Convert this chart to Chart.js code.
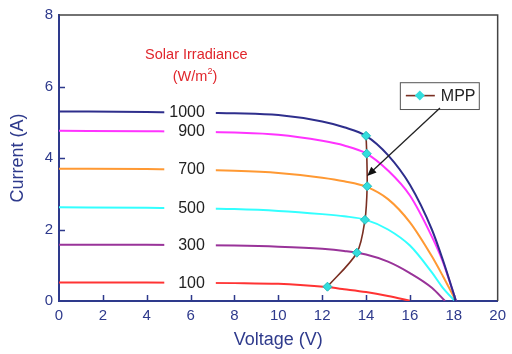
<!DOCTYPE html>
<html>
<head>
<meta charset="utf-8">
<script src="https://cdn.jsdelivr.net/npm/chart.js@4.4.0/dist/chart.umd.min.js"></script>
<style>
  html, body { margin: 0; padding: 0; background: #fff; }
  #wrap { width: 512px; height: 354px; }
</style>
</head>
<body>
<div id="wrap"><canvas id="pv"></canvas></div>
<script>
// irradiance levels (W/m2)
const irradiance = ['1000', '900', '700', '500', '300', '100'];
const curveColors = ['#2e2e8c', '#ff33ff', '#ff9933', '#33ffff', '#993399', '#ff3333'];

// I-V curves
const v1000 = [0, 4, 8, 10, 12, 13, 14, 15, 16, 17, 17.5, 18.1];
const i1000 = [5.3, 5.29, 5.25, 5.2, 5.02, 4.86, 4.62, 4.08, 3.25, 2.0, 1.15, 0];
const v900 = [0, 4, 8, 10, 12, 13, 14, 15, 16, 17, 17.5, 18.1];
const i900 = [4.76, 4.75, 4.71, 4.65, 4.48, 4.35, 4.13, 3.65, 2.95, 1.8, 1.1, 0];
const v700 = [0, 4, 8, 10, 12, 13, 14, 15, 16, 17, 17.5, 18.1];
const i700 = [3.7, 3.69, 3.64, 3.58, 3.45, 3.35, 3.2, 2.85, 2.2, 1.25, 0.7, 0];
const v500 = [0, 4, 8, 10, 12, 13, 14, 15, 16, 17, 17.5, 18.05];
const i500 = [2.62, 2.61, 2.57, 2.52, 2.43, 2.37, 2.27, 2.0, 1.55, 0.8, 0.37, 0];
const v300 = [0, 4, 8, 10, 12, 13, 14, 15, 16, 17, 17.6];
const i300 = [1.57, 1.57, 1.55, 1.52, 1.46, 1.4, 1.3, 1.1, 0.78, 0.37, 0];
const v100 = [0, 4, 8, 10, 11, 12.2, 13, 14, 15, 16.05];
const i100 = [0.52, 0.52, 0.5, 0.48, 0.45, 0.39, 0.33, 0.25, 0.14, 0];

// maximum power points
const mppV = [12.24, 13.58, 13.95, 14.05, 14.03, 14.0];
const mppI = [0.4, 1.35, 2.27, 3.21, 4.12, 4.62];

const xTicks = [0, 2, 4, 6, 8, 10, 12, 14, 16, 18, 20];
const yTicks = [0, 2, 4, 6, 8];

const navy = '#2e3a8c';

const voltages = [v1000, v900, v700, v500, v300, v100];
const currents = [i1000, i900, i700, i500, i300, i100];

function pts(xs, ys) {
    return xs.map((x, k) => ({ x: x, y: ys[k] }));
}

const datasets = irradiance.map((lvl, k) => ({
    label: lvl,
    data: pts(voltages[k], currents[k]),
    showLine: true,
    borderColor: curveColors[k],
    borderWidth: 2,
    pointRadius: 0,
    cubicInterpolationMode: 'monotone',
    order: 2
}));

datasets.push({
    label: 'MPP',
    data: pts(mppV, mppI),
    showLine: true,
    borderColor: '#7a2f22',
    borderWidth: 1.6,
    tension: 0.3,
    pointStyle: 'rectRot',
    pointRadius: 4.5,
    pointBackgroundColor: '#33dddd',
    pointBorderColor: '#22bbbb',
    pointBorderWidth: 1,
    order: 0
});

// labels, frame, legend box and arrow
const decor = {
    id: 'decor',
    afterDatasetsDraw(chart) {
        const ctx = chart.ctx;
        const xs = chart.scales.x, ys = chart.scales.y;
        ctx.save();
        // irradiance labels on white boxes cutting the curves
        ctx.font = '16px "Liberation Sans", Arial, sans-serif';
        ctx.textAlign = 'right';
        ctx.textBaseline = 'middle';
        irradiance.forEach((lvl, k) => {
            const yp = ys.getPixelForValue(currents[k][0]);
            const x0 = xs.getPixelForValue(4.8), x1 = xs.getPixelForValue(7.15);
            ctx.fillStyle = '#fff';
            ctx.fillRect(x0, yp - 8, x1 - x0, 16);
            ctx.fillStyle = '#222';
            ctx.fillText(lvl, xs.getPixelForValue(6.65), yp + 1);
        });
        // title of the labels
        ctx.fillStyle = '#e0262c';
        ctx.textAlign = 'center';
        ctx.font = '14.5px "Liberation Sans", Arial, sans-serif';
        ctx.fillText('Solar Irradiance', xs.getPixelForValue(6.26), ys.getPixelForValue(6.88));
        // (W/m2) with a raised 2
        const uy = ys.getPixelForValue(6.27);
        const part1 = '(W/m', part3 = ')';
        ctx.font = '14.5px "Liberation Sans", Arial, sans-serif';
        const w1 = ctx.measureText(part1).width, w3 = ctx.measureText(part3).width;
        ctx.font = '9px "Liberation Sans", Arial, sans-serif';
        const w2 = ctx.measureText('2').width;
        let ux = xs.getPixelForValue(6.2) - (w1 + w2 + w3) / 2;
        ctx.textAlign = 'left';
        ctx.font = '14.5px "Liberation Sans", Arial, sans-serif';
        ctx.fillText(part1, ux, uy);
        ctx.font = '9px "Liberation Sans", Arial, sans-serif';
        ctx.fillText('2', ux + w1, uy - 5);
        ctx.font = '14.5px "Liberation Sans", Arial, sans-serif';
        ctx.fillText(part3, ux + w1 + w2, uy);

        // legend box
        const lx0 = xs.getPixelForValue(15.54), lx1 = xs.getPixelForValue(19.14);
        const ly0 = ys.getPixelForValue(6.12), ly1 = ys.getPixelForValue(5.37);
        ctx.fillStyle = '#fff';
        ctx.fillRect(lx0, ly0, lx1 - lx0, ly1 - ly0);
        ctx.strokeStyle = '#555';
        ctx.lineWidth = 1;
        ctx.strokeRect(lx0 + 0.5, ly0 + 0.5, lx1 - lx0, ly1 - ly0);
        const lyMid = (ly0 + ly1) / 2;
        ctx.strokeStyle = '#7a2f22';
        ctx.lineWidth = 1.6;
        ctx.beginPath();
        ctx.moveTo(lx0 + 6, lyMid);
        ctx.lineTo(lx0 + 35, lyMid);
        ctx.stroke();
        const mx = lx0 + 20;
        ctx.fillStyle = '#33dddd';
        ctx.beginPath();
        ctx.moveTo(mx, lyMid - 5);
        ctx.lineTo(mx + 5, lyMid);
        ctx.lineTo(mx, lyMid + 5);
        ctx.lineTo(mx - 5, lyMid);
        ctx.closePath();
        ctx.fill();
        ctx.fillStyle = '#222';
        ctx.textAlign = 'left';
        ctx.font = '16px "Liberation Sans", Arial, sans-serif';
        ctx.fillText('MPP', lx0 + 41, lyMid + 1);

        // arrow to the MPP line
        const ax0 = xs.getPixelForValue(17.37), ay0 = ys.getPixelForValue(5.4);
        const ax1 = xs.getPixelForValue(14.05), ay1 = ys.getPixelForValue(3.5);
        const ang = Math.atan2(ay1 - ay0, ax1 - ax0);
        ctx.strokeStyle = '#222';
        ctx.lineWidth = 1.3;
        ctx.beginPath();
        ctx.moveTo(ax0, ay0);
        ctx.lineTo(ax1 - 6 * Math.cos(ang), ay1 - 6 * Math.sin(ang));
        ctx.stroke();
        ctx.fillStyle = '#111';
        ctx.beginPath();
        ctx.moveTo(ax1, ay1);
        ctx.lineTo(ax1 - 10 * Math.cos(ang - 0.4), ay1 - 10 * Math.sin(ang - 0.4));
        ctx.lineTo(ax1 - 10 * Math.cos(ang + 0.4), ay1 - 10 * Math.sin(ang + 0.4));
        ctx.closePath();
        ctx.fill();
        ctx.restore();
    },
    afterDraw(chart) {
        const ctx = chart.ctx;
        const a = chart.chartArea;
        const xs = chart.scales.x, ys = chart.scales.y;
        ctx.save();
        // top and right frame
        ctx.strokeStyle = '#444';
        ctx.lineWidth = 1.5;
        ctx.beginPath();
        ctx.moveTo(a.left, a.top);
        ctx.lineTo(a.right, a.top);
        ctx.lineTo(a.right, a.bottom);
        ctx.stroke();
        // inward tick marks
        ctx.strokeStyle = navy;
        ctx.lineWidth = 1.5;
        ctx.beginPath();
        xTicks.slice(1, -1).forEach(v => {
            const p = Math.round(xs.getPixelForValue(v)) + 0.5;
            ctx.moveTo(p, a.bottom);
            ctx.lineTo(p, a.bottom - 6);
        });
        yTicks.slice(1, -1).forEach(v => {
            const p = Math.round(ys.getPixelForValue(v)) + 0.5;
            ctx.moveTo(a.left, p);
            ctx.lineTo(a.left + 6, p);
        });
        ctx.stroke();
        ctx.restore();
    }
};

const tickFont = { family: '"Liberation Sans", Arial, sans-serif', size: 15 };
const titleFont = { family: '"Liberation Sans", Arial, sans-serif', size: 18 };

new Chart(document.getElementById('pv'), {
    type: 'scatter',
    data: { datasets: datasets },
    options: {
        responsive: true,
        maintainAspectRatio: false,
        animation: false,
        layout: { padding: { top: 15, right: 12, left: 0, bottom: 0 } },
        plugins: { legend: { display: false }, tooltip: { enabled: false } },
        scales: {
            x: {
                type: 'linear',
                min: 0, max: 20,
                afterFit: s => { s.height = 53; },
                afterBuildTicks: s => { s.ticks = xTicks.map(v => ({ value: v })); },
                grid: { drawOnChartArea: false, drawTicks: false },
                border: { display: true, color: navy, width: 2 },
                ticks: { color: navy, font: tickFont, padding: 6, maxRotation: 0 },
                title: { display: true, text: 'Voltage (V)', color: navy, font: titleFont, padding: { top: 0, bottom: 3 } }
            },
            y: {
                type: 'linear',
                min: 0, max: 8,
                afterFit: s => { s.width = 59; },
                afterBuildTicks: s => { s.ticks = yTicks.map(v => ({ value: v })); },
                grid: { drawOnChartArea: false, drawTicks: false },
                border: { display: true, color: navy, width: 2 },
                ticks: { color: navy, font: tickFont, padding: 6 },
                title: { display: true, text: 'Current (A)', color: navy, font: titleFont, padding: { top: 7, bottom: 0 } }
            }
        }
    },
    plugins: [decor]
});
</script>
</body>
</html>
